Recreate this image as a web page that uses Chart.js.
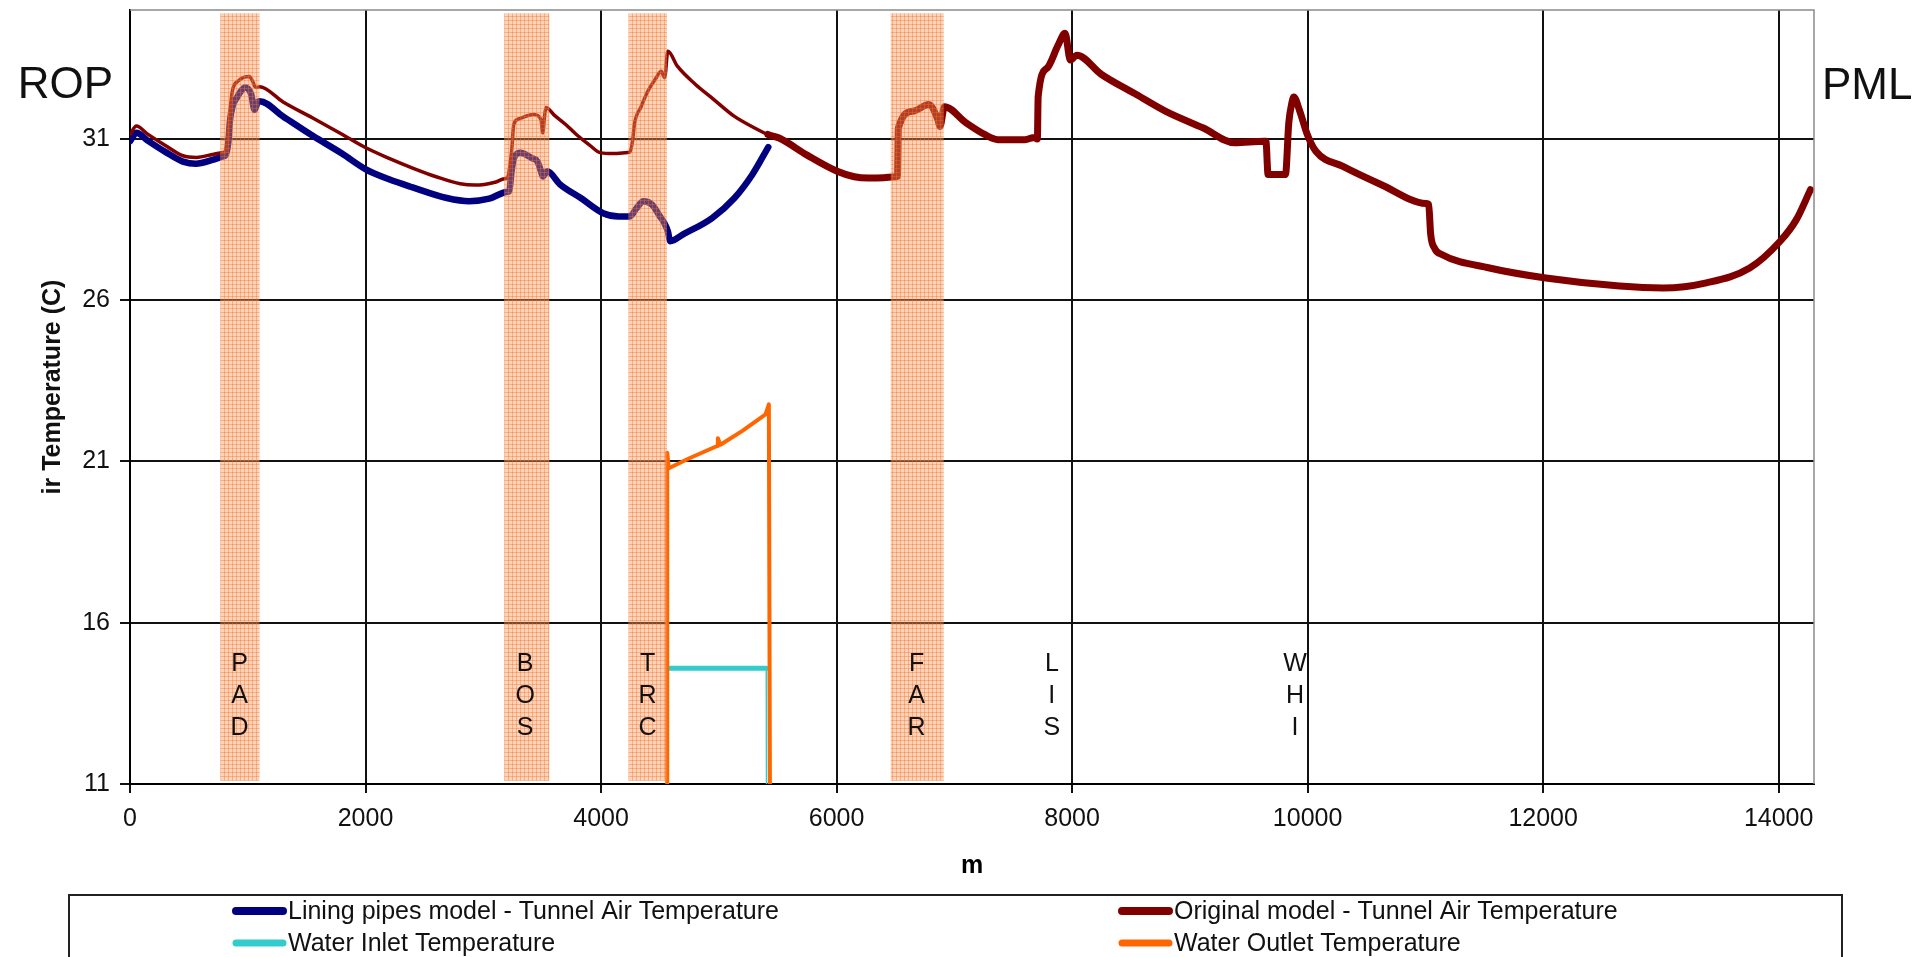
<!DOCTYPE html>
<html>
<head>
<meta charset="utf-8">
<script src="https://cdn.jsdelivr.net/npm/chart.js@4.4.1/dist/chart.umd.min.js"></script>
<style>
  html, body { margin: 0; padding: 0; background: #ffffff; overflow: hidden; }
  canvas { display: block; }
</style>
</head>
<body>
<canvas id="tunnel" width="1930" height="957"></canvas>
<script>
// Axis ticks
const xTicks = [0, 2000, 4000, 6000, 8000, 10000, 12000, 14000];
const yTicks = [11, 16, 21, 26, 31];

// Original model - tunnel air temperature (distance in m, temperature in C)
const originalDistance = [0, 54, 150, 300, 450, 566, 700, 790, 812, 830, 850, 870, 920, 965, 1013, 1040, 1060, 1075, 1100,
  1300, 1552, 1800, 2007, 2200, 2400, 2600, 2804, 2930, 3100, 3180, 3202, 3240, 3259, 3300, 3430, 3490, 3505, 3520, 3532,
  3600, 3700, 3790, 3900, 3998, 4100, 4225, 4245, 4270, 4283, 4340, 4397, 4460, 4511, 4540, 4567, 4650, 4800, 4943, 5133,
  5300, 5417, 5512, 5750, 6005, 6150, 6271, 6400, 6500, 6517, 6525, 6650, 6783, 6860, 6878, 6916, 7100, 7257, 7370, 7600,
  7680, 7705, 7712, 7788, 7880, 7940, 7985, 8040, 8250, 8546, 8800, 9115, 9381, 9630, 9646, 9664, 9812, 9840, 9865, 9883,
  9930, 9997, 10070, 10300, 10622, 11005, 11028, 11045, 11080, 11139, 11544, 12023, 12649, 13017, 13386, 13754, 14012,
  14150, 14270];
const originalTemp = [31.14, 31.4, 31.15, 30.8, 30.48, 30.43, 30.52, 30.58, 30.62, 31.0, 31.9, 32.5, 32.8, 32.91, 32.94, 32.8,
  32.63, 32.6, 32.62, 32.15, 31.65, 31.15, 30.72, 30.4, 30.1, 29.83, 29.61, 29.57, 29.66, 29.77, 29.79, 30.6, 31.45, 31.62,
  31.76, 31.6, 31.19, 31.7, 31.98, 31.75, 31.45, 31.14, 30.82, 30.57, 30.55, 30.58, 30.6, 31.0, 31.45, 32.0, 32.48, 32.85,
  33.1, 32.9, 33.72, 33.25, 32.7, 32.27, 31.7, 31.35, 31.14, 31.03, 30.5, 30.0, 29.83, 29.79, 29.8, 29.83, 29.84, 31.34,
  31.86, 32.07, 31.6, 31.39, 32.0, 31.5, 31.14, 30.98, 30.98, 31.05, 31.0, 32.32, 33.2, 33.9, 34.28, 33.45, 33.6,
  33.0, 32.38, 31.85, 31.34, 30.88, 30.93, 30.93, 29.9, 29.9, 31.5, 32.1, 32.3, 31.9, 31.14, 30.62, 30.15, 29.59, 29.0,
  28.97, 28.04, 27.6, 27.42, 27.0, 26.69, 26.44, 26.38, 26.54, 27.0, 27.83, 28.5, 29.43];

// Lining pipes model - tunnel air temperature
const liningDistance = [0, 54, 150, 300, 450, 560, 700, 790, 812, 835, 850, 870, 910, 945, 977, 1028, 1058, 1085, 1100,
  1300, 1552, 1800, 2007, 2200, 2400, 2690, 2880, 3050, 3200, 3221, 3240, 3265, 3316, 3411, 3460, 3490, 3505, 3543, 3650,
  3828, 4018, 4150, 4245, 4300, 4359, 4435, 4500, 4530, 4568, 4587, 4700, 4943, 5133, 5285, 5420];
const liningTemp = [30.93, 31.19, 30.95, 30.6, 30.3, 30.23, 30.35, 30.46, 30.5, 30.9, 31.6, 32.0, 32.3, 32.5, 32.6, 32.4,
  31.9, 32.15, 32.17, 31.7, 31.1, 30.55, 30.05, 29.75, 29.5, 29.17, 29.07, 29.15, 29.36, 29.38, 30.0, 30.45, 30.57, 30.41,
  30.3, 30.0, 29.84, 30.0, 29.6, 29.17, 28.7, 28.6, 28.6, 28.85, 29.07, 28.96, 28.6, 28.44, 28.13, 27.83, 28.05,
  28.55, 29.17, 29.9, 30.75];

// Water inlet / outlet temperatures along the piped section
const inletDistance = [4566, 4570, 5403, 5405];
const inletTemp = [11, 14.59, 14.59, 11];
const outletDistance = [4562, 4562, 4575, 4750, 4986, 4992, 5014, 5200, 5397, 5425, 5434];
const outletTemp = [11, 21.27, 20.79, 21.1, 21.48, 21.72, 21.52, 21.95, 22.46, 22.77, 11];

// Station zones (m) and station labels
const bandStart = [767, 3178, 4233, 6460];
const bandEnd = [1100, 3561, 4560, 6910];
const bandLow = 11.1;
const bandHigh = 34.9;
const stationNames = ['PAD', 'BOS', 'TRC', 'FAR', 'LIS', 'WHI'];
const stationAt = [930, 3356, 4395, 6680, 7828, 9893];

const seriesLabels = [
  'Lining pipes model - Tunnel Air Temperature',
  'Original model - Tunnel Air Temperature',
  'Water Inlet Temperature',
  'Water Outlet Temperature'
];
const seriesColors = ['#000080', '#800000', '#33CCCC', '#FF6600'];

const FONT = '"Liberation Sans", Arial, sans-serif';
Chart.defaults.font.family = FONT;
Chart.defaults.color = '#000';

const pairs = (xs, ys) => xs.map((x, i) => ({ x: x, y: ys[i] }));

// Peach cross-hatch used for the station zones
function zonePattern(ctx) {
  const tile = document.createElement('canvas');
  tile.width = 4; tile.height = 4;
  const t = tile.getContext('2d');
  t.fillStyle = 'rgba(250,150,90,0.42)';
  t.fillRect(0, 0, 4, 4);
  t.fillStyle = 'rgba(240,110,40,0.38)';
  t.fillRect(0, 0, 4, 1);
  t.fillRect(0, 0, 1, 4);
  return ctx.createPattern(tile, 'repeat');
}

const decorations = {
  id: 'decorations',
  afterDatasetsDraw(chart) {
    const { ctx, chartArea: a, scales: { x, y } } = chart;
    ctx.save();
    ctx.beginPath();
    ctx.rect(a.left, a.top, a.right - a.left, a.bottom - a.top);
    ctx.clip();
    ctx.fillStyle = zonePattern(ctx);
    const top = y.getPixelForValue(bandHigh), bottom = y.getPixelForValue(bandLow);
    bandStart.forEach((s, i) => {
      const l = x.getPixelForValue(s), r = x.getPixelForValue(bandEnd[i]);
      ctx.fillRect(l, top, r - l, bottom - top);
    });
    ctx.restore();

    // station letters, stacked vertically
    ctx.save();
    ctx.fillStyle = '#111';
    ctx.font = '25px ' + FONT;
    ctx.textAlign = 'center';
    ctx.textBaseline = 'middle';
    const row0 = y.getPixelForValue(16) + 41;
    stationNames.forEach((name, i) => {
      const px = x.getPixelForValue(stationAt[i]);
      name.split('').forEach((ch, k) => ctx.fillText(ch, px, row0 + k * 32));
    });
    ctx.restore();

    // top and right frame
    ctx.save();
    ctx.strokeStyle = '#8a8a8a';
    ctx.lineWidth = 1.5;
    ctx.beginPath();
    ctx.moveTo(a.left, a.top);
    ctx.lineTo(a.right, a.top);
    ctx.lineTo(a.right, a.bottom);
    ctx.stroke();
    ctx.restore();
  },
  afterDraw(chart) {
    const { ctx, chartArea: a } = chart;
    ctx.save();
    // end portal names
    ctx.fillStyle = '#111';
    ctx.font = '44px ' + FONT;
    ctx.textBaseline = 'alphabetic';
    ctx.textAlign = 'right';
    ctx.fillText('ROP', a.left - 17, 98);
    ctx.textAlign = 'left';
    ctx.fillText('PML', a.right + 8, 99);

    // y axis title
    ctx.save();
    ctx.translate(53, 387);
    ctx.rotate(-Math.PI / 2);
    ctx.font = 'bold 25px ' + FONT;
    ctx.textAlign = 'center';
    ctx.textBaseline = 'middle';
    ctx.fillText('ir Temperature (C)', 0, 0);
    ctx.restore();

    // legend box
    ctx.strokeStyle = '#222';
    ctx.lineWidth = 2;
    ctx.strokeRect(69, 895, 1773, 120);
    const cols = [233, 1119];
    const rows = [911, 943];
    const slots = [[0, 0], [1, 0], [0, 1], [1, 1]];
    const widths = [8, 8, 7, 7];
    ctx.font = '25px ' + FONT;
    ctx.textAlign = 'left';
    ctx.textBaseline = 'middle';
    chart.data.datasets.forEach((ds, i) => {
      const [c, r] = slots[i];
      const sx = cols[c], sy = rows[r];
      ctx.strokeStyle = ds.borderColor;
      ctx.lineWidth = widths[i];
      ctx.lineCap = 'round';
      ctx.beginPath();
      ctx.moveTo(sx + 3, sy);
      ctx.lineTo(sx + 50, sy);
      ctx.stroke();
      ctx.fillStyle = '#111';
      ctx.fillText(ds.label, sx + 55, sy + 1);
    });
    ctx.restore();
  }
};

new Chart(document.getElementById('tunnel'), {
  type: 'line',
  data: {
    datasets: [
      {
        label: seriesLabels[0],
        data: pairs(liningDistance, liningTemp),
        borderColor: seriesColors[0],
        borderWidth: 6.5,
        cubicInterpolationMode: 'monotone',
        order: 3
      },
      {
        label: seriesLabels[1],
        data: pairs(originalDistance, originalTemp),
        borderColor: seriesColors[1],
        borderWidth: 3.5,
        cubicInterpolationMode: 'monotone',
        segment: {
          borderWidth: ctx => (ctx.p0.parsed.x >= 5400 ? 7 : 3.5)
        },
        order: 2
      },
      {
        label: seriesLabels[2],
        data: pairs(inletDistance, inletTemp),
        borderColor: seriesColors[2],
        borderWidth: 5,
        segment: {
          borderWidth: ctx => (Math.abs(ctx.p1.parsed.x - ctx.p0.parsed.x) < 10 ? 1.5 : 5)
        },
        order: 1
      },
      {
        label: seriesLabels[3],
        data: pairs(outletDistance, outletTemp),
        borderColor: seriesColors[3],
        borderWidth: 4,
        order: 0
      }
    ]
  },
  options: {
    responsive: false,
    animation: false,
    elements: {
      point: { radius: 0, hoverRadius: 0 },
      line: { tension: 0, fill: false, borderJoinStyle: 'round', borderCapStyle: 'round' }
    },
    layout: { padding: { top: 10, right: 116, bottom: 0, left: 0 } },
    plugins: {
      legend: { display: false },
      tooltip: { enabled: false },
      title: { display: false }
    },
    scales: {
      x: {
        type: 'linear',
        min: 0,
        max: 14300,
        afterBuildTicks: s => { s.ticks = xTicks.map(v => ({ value: v })); },
        afterFit: s => { s.height = 173; s.paddingLeft = 0; s.paddingRight = 0; },
        ticks: {
          autoSkip: false,
          maxRotation: 0,
          padding: 11,
          color: '#111',
          font: { size: 25 },
          callback: v => String(v)
        },
        grid: { color: '#111', lineWidth: 2, tickLength: 9, drawTicks: true },
        border: { display: true, color: '#000', width: 2 },
        title: {
          display: true,
          text: 'm',
          color: '#000',
          font: { size: 25, weight: 'bold' },
          padding: { top: 0, bottom: 76 }
        }
      },
      y: {
        type: 'linear',
        min: 11,
        max: 35,
        afterBuildTicks: s => { s.ticks = yTicks.map(v => ({ value: v })); },
        afterFit: s => { s.width = 130; s.paddingTop = 0; s.paddingBottom = 0; },
        ticks: {
          padding: 10,
          color: '#111',
          font: { size: 25 },
          callback: v => String(v)
        },
        grid: { color: '#111', lineWidth: 2, tickLength: 10, drawTicks: true },
        border: { display: true, color: '#000', width: 2 }
      }
    }
  },
  plugins: [decorations]
});
</script>
</body>
</html>
